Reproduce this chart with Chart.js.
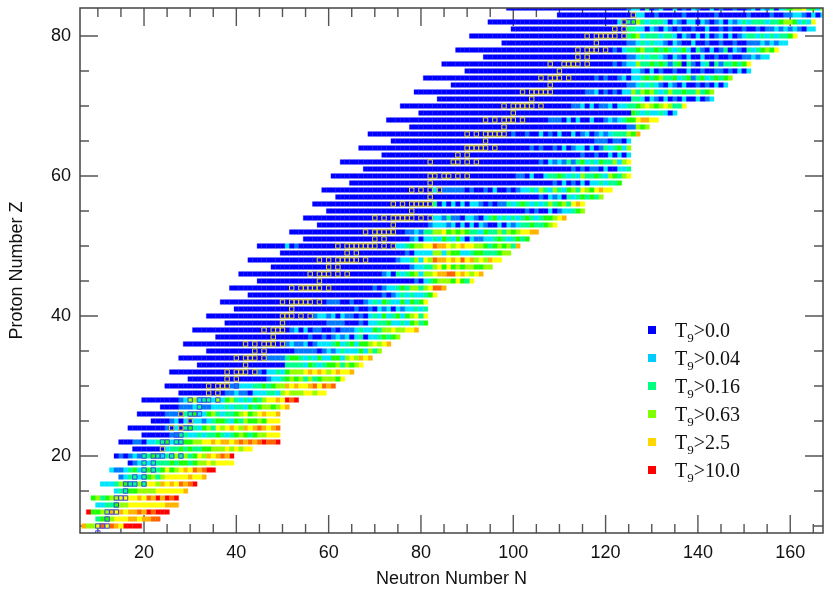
<!DOCTYPE html>
<html>
<head>
<meta charset="utf-8">
<title>Neutron Number vs Proton Number</title>
<script src="https://cdn.jsdelivr.net/npm/chart.js@4/dist/chart.umd.min.js"></script>
<style>
  body { margin: 0; background: #fff; }
  #wrap { position: relative; width: 831px; height: 592px; overflow: hidden; }
  canvas { display: block; }
  .legend-row { position: absolute; left: 675px; height: 28px; line-height: 28px; font: 20px/28px "Liberation Serif", serif; color: #111; white-space: nowrap; }
  .legend-row sub { font-size: 13px; line-height: 0; }
  .legend-box { position: absolute; left: 648px; width: 8px; height: 8px; }
</style>
</head>
<body>
<div id="wrap"><canvas id="chart" width="831" height="592"></canvas></div>
<script>
// temperature class of each nucleus.
// rowTail holds the classes up to rowEnd, everything left of it in the row is class 0 (blue)
const protonZ = [10,11,12,13,14,15,16,17,18,19,20,21,22,23,24,25,26,27,28,29,30,31,32,33,34,35,36,37,38,39,40,41,42,43,44,45,46,47,
  48,49,50,51,52,53,54,55,56,57,58,59,60,61,62,63,64,65,66,67,68,69,70,71,72,73,74,75,76,77,78,79,80,81,82,83,84];
const rowStart = [7,10,8,10,9,14,11,15,13,17,14,18,15,20,17,22,19,24,20,28,25,30,26,32,28,34,29,36,31,38,34,40,37,43,39,45,41,48,
  43,50,45,55,52,58,55,60,57,62,59,65,61,68,63,72,67,74,69,78,73,80,76,84,79,87,81,90,85,94,88,98,91,100,95,110,99];
const rowEnd = [19,23,25,27,27,29,31,33,35,39,39,43,49,49,49,49,49,51,53,59,61,63,65,67,69,71,73,75,79,81,81,81,81,83,85,91,93,95,
  97,99,101,103,105,109,111,115,115,119,121,123,125,125,125,125,125,125,127,129,131,135,137,143,143,146,147,151,151,155,157,159,161,165,165,167,167];
const rowTail = [
  '7556868769999',
  '34456667767788',
  '944557676778798999',
  '223345566666666777',
  '4534556666768797989',
  '2334455556666667',
  '222354335366576768789',
  '1233234535666667667',
  '21123423433464567687899',
  '01232333343443455656666',
  '01012133432335353465767879',
  '2334343344555656566',
  '11022334233445566767767878789889',
  '113322323343234543455666',
  '1020343245365676576787678',
  '120202212344324354454666',
  '1110334224532334564567667',
  '111231122232332434554567',
  '12552332524532324356676989',
  '1121102223325655566566',
  '11222334345576766786878',
  '012234545353455546',
  '102232455567676567667',
  '000033332432344535456',
  '11113443232422442565767',
  '1111101212322242535',
  '012112012223423424456567',
  '10010121202302234345',
  '1202011001011123224355655667',
  '1111000102233422324534',
  '1221202110102324234245636',
  '1001021202122323',
  '1110010012324322424346',
  '101232322346',
  '1012234355356887',
  '01023455546436',
  '1203234525567788676567',
  '000122335646454554455',
  '12235265877676867565766',
  '10222255254422344333455',
  '0201000000000000000000000223455668776567665543454537',
  '12022324324202112234323434',
  '11213355645454332433535456677',
  '1222120202021002021233433456',
  '22131102210234232323432344567',
  '1010020122345',
  '302020202210101132343232353453676',
  '10212032343435',
  '201111101001020010122325325324536546766',
  '102010202232334',
  '1102002334323253343254356',
  '1010110200223',
  '10212131342324335256',
  '10010020202',
  '1010010201220201323425',
  '11101102',
  '1001002010200201201212333547',
  '11545',
  '111020200200121234467766',
  '4323223202',
  '1120201120223345654565336',
  '332021020102002012',
  '1120101022535453235334335345',
  '1123232102102001010202',
  '101001202234345334234134234345',
  '22102010010020010011010202',
  '101225334343134031023031334346',
  '1123233210210200200100100112122',
  '102334533434323420310201302103234546',
  '11232322102100200100100100111212122',
  '3452333233202102020120201233232323346',
  '33220210210100100200101001001011212121022',
  '2034532333202102202101202123233323345542326',
  '0022001000001000000100000010000100112210202',
  '1220301200201021002010010012021302345563425'
];

// nuclei marked with a small box
const stableZ = [9,10,11,12,13,14,15,16,17,18,19,20,21,22,23,24,25,26,27,28,29,30,31,32,33,34,35,36,37,38,39,40,41,42,44,45,46,47,48,49,50,
  51,52,53,54,55,56,57,58,59,60,62,63,64,65,66,67,68,69,70,71,72,73,74,75,76,77,78,79,80,81,82,83];
const stableN = [[10],[10,11,12],[12],[12,13,14],[14],[14,15,16],[16],[16,17,18,20],[18,20],[20,22],[20,22],[20,22,23,24,26,28],[24],[24,25,27,28],[27,28],
  [26,28,29,30],[30],[28,30,31,32],[32],[30,32,33,34,36],[34,36],[34,36,37,38,40],[38,40],[38,40,41,42,44],[42],[40,42,43,44,46],[44,46],[42,44,46,47,48,50],[48],[46,48,49,50],[50],
  [50,51,52,54,56],[52],[50,52,53,54,55,56,58],[52,54,55,56,57,58,60],[58],[56,58,59,60,62,64],[60,62],[58,60,62,63,64,65,66,68],[64,66],[62,64,65,66,67,68,69,70,72,74],
  [70,72],[68,70,71,72,73,74],[74],[70,72,74,75,76,77,78,80,82],[78],[74,76,78,79,80,81,82],[82],[78,80,82,84],[82],[82,83,85,86,88,90],[82,87,88,90,92],[88,90],[90,91,92,93,94,96],[94],
  [90,92,94,95,96,97,98],[98],[94,96,98,99,100,102],[100],[98,100,101,102,103,104,106],[104],[102,104,105,106,107,108],[108],[106,108,109,110,112],[110],[108,111,112,113,114,116],[114,116],
  [114,116,117,118,120],[118],[116,118,119,120,121,122,124],[122,124],[124,125,126],[126]];

const levelColors = ['#0000ff','#0078ff','#00e6ff','#00ff8c','#1eff00','#96ff00','#ffff00','#ffb400','#ff6400','#ff0000'];
const levelHalos = ['rgba(0,0,255,.3)','rgba(0,120,255,.3)','rgba(0,230,255,.3)','rgba(0,255,140,.3)','rgba(30,255,0,.3)','rgba(150,255,0,.3)','rgba(255,255,0,.3)','rgba(255,180,0,.3)','rgba(255,100,0,.3)','rgba(255,0,0,.3)'];

const legendLabels = ['>0.0','>0.04','>0.16','>0.63','>2.5','>10.0'];
const legendColors = ['#0000ff','#00ccff','#00ff80','#80ff00','#ffd700','#ff0000'];

const xMajorTicks = [20,40,60,80,100,120,140,160];
const xMinorTicks = [10,15,25,30,35,45,50,55,65,70,75,85,90,95,105,110,115,125,130,135,145,150,155,165];
const yMajorTicks = [20,40,60,80];
const yMinorTicks = [10,15,25,30,35,45,50,55,65,70,75];

// turn the rows into one point list per class
const cellLevel = {};
const levelPoints = levelColors.map(() => []);
protonZ.forEach((z, i) => {
  const first = rowEnd[i] - rowTail[i].length + 1;
  for (let n = rowStart[i]; n <= rowEnd[i]; n++) {
    const level = n < first ? 0 : Number(rowTail[i][n - first]);
    cellLevel[z + '_' + n] = level;
    levelPoints[level].push({ x: n, y: z });
  }
});

// boxes are yellow on blue cells, blue on all the others
const boxOnBlue = [];
const boxOnColor = [];
stableZ.forEach((z, i) => {
  stableN[i].forEach(n => {
    (cellLevel[z + '_' + n] === 0 ? boxOnBlue : boxOnColor).push({ x: n, y: z });
  });
});

const datasets = levelPoints.map((pts, i) => ({
  data: pts,
  order: 1,
  pointStyle: 'rect',
  pointRadius: 3.3,
  pointBorderWidth: 1,
  pointBackgroundColor: levelColors[i],
  pointBorderColor: levelHalos[i]
}));
// order 0 so the boxes end up on top of the cells
[[boxOnBlue, '#e8d81e'], [boxOnColor, '#3c46e6']].forEach(([pts, color]) => {
  datasets.push({
    data: pts,
    order: 0,
    pointStyle: 'rect',
    pointRadius: 3.1,
    pointBorderWidth: 1,
    pointBackgroundColor: 'transparent',
    pointBorderColor: color
  });
});

// inward ticks on all four sides, Chart.js only does outward ones
const frameTicks = {
  id: 'frameTicks',
  beforeDatasetsDraw(chart) {
    const { ctx, chartArea: a, scales: { x, y } } = chart;
    ctx.save();
    ctx.strokeStyle = '#555';
    ctx.lineWidth = 1.4;
    ctx.beginPath();
    const vert = (v, len) => {
      const p = x.getPixelForValue(v);
      ctx.moveTo(p, a.bottom); ctx.lineTo(p, a.bottom - len);
      ctx.moveTo(p, a.top); ctx.lineTo(p, a.top + len);
    };
    const horiz = (v, len) => {
      const p = y.getPixelForValue(v);
      ctx.moveTo(a.left, p); ctx.lineTo(a.left + len, p);
      ctx.moveTo(a.right, p); ctx.lineTo(a.right - len, p);
    };
    xMajorTicks.forEach(v => vert(v, 18));
    xMinorTicks.forEach(v => vert(v, 9));
    yMajorTicks.forEach(v => horiz(v, 18));
    yMinorTicks.forEach(v => horiz(v, 9));
    ctx.stroke();
    ctx.restore();
  },
  afterDatasetsDraw(chart) {
    const { ctx, chartArea: a } = chart;
    ctx.save();
    ctx.strokeStyle = '#444';
    ctx.lineWidth = 1.5;
    ctx.strokeRect(a.left, a.top, a.right - a.left, a.bottom - a.top);
    ctx.restore();
  }
};

const axisFont = { family: '"Liberation Sans", Arial, sans-serif', size: 18 };

new Chart(document.getElementById('chart'), {
  type: 'scatter',
  data: { datasets },
  plugins: [frameTicks],
  options: {
    responsive: false,
    animation: false,
    events: [],
    layout: { autoPadding: false, padding: { top: 8, right: 8 } },
    plugins: { legend: { display: false }, tooltip: { enabled: false } },
    scales: {
      x: {
        type: 'linear',
        min: 6.13,
        max: 167.1,
        grid: { display: false, tickLength: 0 },
        border: { display: false },
        afterBuildTicks: s => { s.ticks = xMajorTicks.map(v => ({ value: v })); },
        afterFit: s => { s.height = 59; s.paddingLeft = 0; s.paddingRight = 0; },
        ticks: { color: '#111', font: axisFont, maxRotation: 0, padding: 9 },
        title: { display: true, text: 'Neutron Number N', color: '#111', font: axisFont, padding: { top: 8, bottom: 2 } }
      },
      y: {
        type: 'linear',
        min: 9,
        max: 84,
        grid: { display: false, tickLength: 0 },
        border: { display: false },
        afterBuildTicks: s => { s.ticks = yMajorTicks.map(v => ({ value: v })); },
        afterFit: s => { s.width = 80; s.paddingTop = 0; s.paddingBottom = 0; },
        ticks: { color: '#111', font: axisFont, padding: 9 },
        title: { display: true, text: 'Proton Number Z', color: '#111', font: axisFont, padding: { top: 6, bottom: 0 } }
      }
    }
  }
});

// legend, HTML because of the subscript
const wrap = document.getElementById('wrap');
legendLabels.forEach((label, i) => {
  const cy = 330 + i * 28;
  const box = document.createElement('div');
  box.className = 'legend-box';
  box.style.top = (cy - 4) + 'px';
  box.style.background = legendColors[i];
  wrap.appendChild(box);
  const row = document.createElement('div');
  row.className = 'legend-row';
  row.style.top = (cy - 14) + 'px';
  row.innerHTML = 'T<sub>9</sub>' + label.replace('>', '&gt;');
  wrap.appendChild(row);
});
</script>
</body>
</html>
